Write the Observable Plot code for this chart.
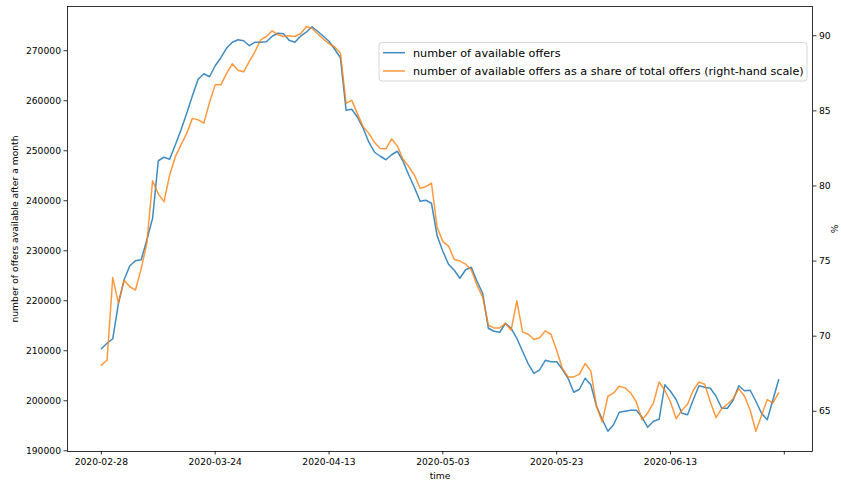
<!DOCTYPE html>
<html>
<head>
<meta charset="utf-8">
<script src="https://cdn.jsdelivr.net/npm/d3@7"></script>
<script src="https://cdn.jsdelivr.net/npm/@observablehq/plot@0.6"></script>
<style>
  body { margin: 0; background: #fff; }
  #chart svg { font-family: "DejaVu Sans", sans-serif; }
</style>
</head>
<body>
<div id="chart"></div>
<script>
// ---- data ----
const tickIndex = [0, 20, 40, 60, 80, 100, 120];
const tickLabels = ["2020-02-28", "2020-03-24", "2020-04-13", "2020-05-03", "2020-05-23", "2020-06-13", ""];
const leftTicks = [190000, 200000, 210000, 220000, 230000, 240000, 250000, 260000, 270000];
const rightTicks = [65, 70, 75, 80, 85, 90];

const offers = [
  210400, 211500, 212400, 219500, 224200, 227000, 228000, 228200, 232200, 236500,
  248000, 248700, 248300, 251200, 254200, 257500, 261000, 264300, 265400, 264800,
  267000, 268600, 270500, 271700, 272200, 272000, 271000, 271700, 271700, 271800,
  272900, 273500, 273400, 272100, 271700, 272900, 273700, 274800, 273900, 272900,
  271900, 270300, 268600, 258100, 258300, 256700, 254500, 251700, 249700, 248900,
  248200, 249200, 249900, 247900, 245200, 242700, 239900, 240100, 239500, 233000,
  229900, 227300, 226100, 224500, 226200, 226700, 223900, 221500, 214500, 213900,
  213700, 215500, 214500, 212500, 209900, 207400, 205500, 206200, 208100, 207800,
  207800, 206300, 204500, 201700, 202300, 204500, 203200, 198900, 196300, 193900,
  195200, 197700, 197900, 198100, 198100, 196700, 194700, 195900, 196300, 203200,
  201900, 200200, 197500, 197200, 200200, 203000, 202700, 202500, 200900, 198500,
  198500, 200100, 203000, 202000, 202100, 199900, 197500, 196200, 200200, 204200
];
const share = [
  68.07, 68.4, 73.9, 72.2, 73.73, 73.29, 73.07, 74.5, 76.2, 80.35,
  79.47, 78.96, 80.73, 81.95, 82.73, 83.5, 84.5, 84.4, 84.18, 85.55,
  86.73, 86.73, 87.5, 88.13, 87.7, 87.6, 88.3, 88.95, 89.73, 89.95,
  90.33, 90.07, 89.95, 90.0, 89.95, 90.13, 90.6, 90.5, 90.13, 89.78,
  89.47, 89.25, 88.85, 85.5, 85.7, 84.8, 83.95, 83.5, 82.9, 82.5,
  82.47, 83.13, 82.67, 81.78, 81.29, 80.73, 79.85, 79.95, 80.18, 77.25,
  76.3, 76.0, 75.1, 75.0, 74.8, 74.4, 73.4, 72.6, 70.73, 70.55,
  70.55, 70.85, 70.4, 72.35, 70.29, 70.13, 69.78, 69.9, 70.35, 70.13,
  69.07, 67.85, 67.29, 67.29, 67.47, 68.18, 67.69, 65.33, 64.29, 66.0,
  66.22, 66.67, 66.56, 66.22, 65.62, 64.44, 64.89, 65.56, 66.95, 66.4,
  65.62, 64.51, 65.07, 65.47, 66.4, 66.95, 66.8, 65.62, 64.58, 65.18,
  65.47, 65.84, 66.51, 66.0, 65.07, 63.67, 64.73, 65.78, 65.56, 66.22
];

const seriesNames = [
  "number of available offers",
  "number of available offers as a share of total offers (right-hand scale)"
];
const colors = ["#1f77b4", "#ff7f0e"];

// ---- scales (matplotlib-like 5% margins) ----
function padded(arr) {
  const lo = d3.min(arr), hi = d3.max(arr), p = (hi - lo) * 0.05;
  return [lo - p, hi + p];
}
const [L0, L1] = padded(offers);
const [R0, R1] = padded(share);
const toLeft = v => L0 + (v - R0) / (R1 - R0) * (L1 - L0);
const fromLeft = v => R0 + (v - L0) / (L1 - L0) * (R1 - R0);
const n = offers.length;
const xPad = (n - 1) * 0.05;

const data = offers.map((v, i) => ({ i, v, s: toLeft(share[i]) }));

const W = 841, H = 481;
const mL = 67, mR = 29, mT = 6, mB = 30;

const chart = Plot.plot({
  width: W,
  height: H,
  marginLeft: mL,
  marginRight: mR,
  marginTop: mT,
  marginBottom: mB,
  style: { fontFamily: "DejaVu Sans, sans-serif", fontSize: "9.2px", color: "black", background: "white" },
  x: { domain: [-xPad, n - 1 + xPad] },
  y: { domain: [L0, L1] },
  marks: [
    Plot.line(data, { x: "i", y: "v", stroke: colors[0], strokeWidth: 1.5, strokeOpacity: 0.85 }),
    Plot.line(data, { x: "i", y: "s", stroke: colors[1], strokeWidth: 1.5, strokeOpacity: 0.8 }),
    Plot.frame({ stroke: "black", strokeWidth: 0.8 }),
    Plot.axisX({
      ticks: tickIndex,
      tickFormat: d => tickLabels[tickIndex.indexOf(d)],
      tickSize: 3.5, tickPadding: 3, strokeWidth: 0.8,
      label: "time", labelAnchor: "center", labelArrow: "none", labelOffset: 27
    }),
    Plot.axisY({
      ticks: leftTicks,
      tickFormat: d => String(d),
      tickSize: 3.5, tickPadding: 3, strokeWidth: 0.8,
      label: "number of offers available after a month", labelAnchor: "center", labelArrow: "none", labelOffset: 56
    }),
    Plot.axisY({
      anchor: "right",
      ticks: rightTicks.map(toLeft),
      tickFormat: d => String(Math.round(fromLeft(d))),
      tickSize: 3.5, tickPadding: 3, strokeWidth: 0.8,
      label: "%", labelAnchor: "center", labelArrow: "none", labelOffset: 25
    })
  ]
});

document.getElementById("chart").appendChild(chart);

// ---- legend inside the SVG ----
const svg = d3.select(chart);
const lg = svg.append("g")
  .attr("font-family", "DejaVu Sans, sans-serif")
  .attr("font-size", "11.2px")
  .attr("text-anchor", "start");
lg.append("rect")
  .attr("x", 379).attr("y", 42.5).attr("width", 428).attr("height", 38.5)
  .attr("rx", 3).attr("fill", "white").attr("fill-opacity", 0.8)
  .attr("stroke", "#cccccc").attr("stroke-width", 0.8);
seriesNames.forEach((name, k) => {
  const yy = 52.7 + k * 18.3;
  lg.append("line").attr("x1", 383).attr("x2", 405).attr("y1", yy).attr("y2", yy)
    .attr("stroke", colors[k]).attr("stroke-width", 1.5).attr("stroke-opacity", k ? 0.8 : 0.85);
  lg.append("text").attr("x", 413).attr("y", yy).attr("dy", "0.35em")
    .attr("text-anchor", "start").attr("fill", "black").text(name);
});
</script>
</body>
</html>
